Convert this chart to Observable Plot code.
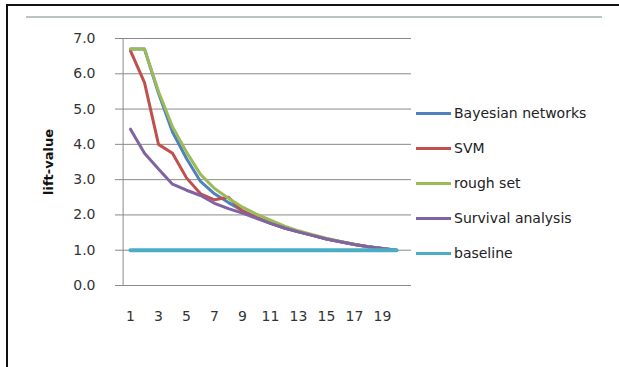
<!DOCTYPE html>
<html>
<head>
<meta charset="utf-8">
<script src="https://cdn.jsdelivr.net/npm/d3@7"></script>
<script src="https://cdn.jsdelivr.net/npm/@observablehq/plot@0.6"></script>
<style>
  html, body { margin: 0; padding: 0; background: #fff; }
  #wrap { position: relative; width: 619px; height: 367px; overflow: hidden; }
  #frame-top { position: absolute; left: 6px; top: 4px; width: 613px; height: 2px; background: #111; }
  #frame-left { position: absolute; left: 6px; top: 4px; width: 2px; height: 363px; background: #111; }
  #rule { position: absolute; left: 26px; top: 16px; width: 576px; height: 2px; background: #b9c5c4; }
  #legend { position: absolute; left: 416px; top: 0; font-family: "DejaVu Sans", sans-serif; font-size: 14px; color: #222; }
  .item { position: absolute; left: 0; height: 20px; display: flex; align-items: center; white-space: nowrap; }
  .swatch { width: 35px; height: 3px; margin-right: 3px; }
</style>
</head>
<body>
<div id="wrap">
  <div id="chart"></div>
  <div id="rule"></div>
  <div id="frame-top"></div>
  <div id="frame-left"></div>
  <div id="legend"></div>
</div>
<script>
// Top-N groups (1..20) on the horizontal axis
const groups = d3.range(1, 21);

// Lift value per group for each model
const bayesianNetworks = [6.7, 6.7, 5.45, 4.35, 3.6, 2.95, 2.6, 2.35, 2.12, 1.93, 1.77, 1.63, 1.52, 1.42, 1.32, 1.24, 1.16, 1.1, 1.05, 1.0];
const svm              = [6.65, 5.75, 4.0, 3.75, 3.05, 2.6, 2.43, 2.5, 2.1, 1.92, 1.76, 1.63, 1.52, 1.42, 1.32, 1.24, 1.16, 1.1, 1.05, 1.0];
const roughSet         = [6.7, 6.7, 5.5, 4.5, 3.78, 3.15, 2.75, 2.47, 2.22, 2.02, 1.85, 1.68, 1.55, 1.44, 1.34, 1.25, 1.17, 1.1, 1.05, 1.0];
const survivalAnalysis = [4.43, 3.75, 3.3, 2.87, 2.7, 2.55, 2.33, 2.18, 2.05, 1.9, 1.76, 1.63, 1.52, 1.42, 1.32, 1.24, 1.16, 1.1, 1.05, 1.0];
const baseline         = [1, 1, 1, 1, 1, 1, 1, 1, 1, 1, 1, 1, 1, 1, 1, 1, 1, 1, 1, 1];

// Axis labels
const xTickLabels = [1, 3, 5, 7, 9, 11, 13, 15, 17, 19];
const yTickValues = [0, 1, 2, 3, 4, 5, 6, 7];

const seriesNames  = ["Bayesian networks", "SVM", "rough set", "Survival analysis", "baseline"];
const seriesValues = [bayesianNetworks, svm, roughSet, survivalAnalysis, baseline];
const seriesColors = ["#4f81bd", "#c0504d", "#9bbb59", "#8064a2", "#4bacc6"];

const rows = seriesNames.flatMap((name, s) =>
  groups.map((g, i) => ({series: name, group: g, lift: seriesValues[s][i]}))
);

const chart = Plot.plot({
  width: 619,
  height: 367,
  marginLeft: 115,
  marginRight: 208,
  marginTop: 38,
  marginBottom: 82,
  style: {fontFamily: "'DejaVu Sans', sans-serif", fontSize: "14px", color: "#333", background: "transparent"},
  x: {type: "point", domain: groups, padding: 0.5},
  y: {domain: [0, 7]},
  color: {domain: seriesNames, range: seriesColors},
  marks: [
    Plot.ruleY(yTickValues.filter(v => v > 0), {stroke: "#8a8a8a", strokeWidth: 1}),
    Plot.ruleY([0], {stroke: "#8a8a8a", strokeWidth: 1}),
    Plot.ruleX([groups[0]], {stroke: "#8a8a8a", strokeWidth: 1, y1: 0, y2: 7, dx: -7.4}),
    Plot.axisX({ticks: xTickLabels, tickSize: 0, tickPadding: 26, label: null, fill: "#333"}),
    Plot.axisY({ticks: yTickValues, tickFormat: d3.format(".1f"), tickSize: 0, tickPadding: 20, label: null, fill: "#333"}),
    Plot.lineY(rows.filter(d => d.series !== "baseline"), {
      x: "group", y: "lift", z: "series", stroke: "series",
      strokeWidth: 3, strokeLinejoin: "round", strokeLinecap: "round"
    }),
    Plot.lineY(rows.filter(d => d.series === "baseline"), {
      x: "group", y: "lift", stroke: "series",
      strokeWidth: 4, strokeLinecap: "round"
    }),
    Plot.text(["lift-value"], {
      frameAnchor: "left", dx: -67, rotate: -90, textAnchor: "middle",
      fontWeight: "bold", fontSize: 13, fill: "#111"
    })
  ]
});
document.getElementById("chart").appendChild(chart);

// Legend to the right of the plot
const legend = document.getElementById("legend");
const rowTops = [103, 138, 173, 208, 243];
seriesNames.forEach((name, i) => {
  const item = document.createElement("div");
  item.className = "item";
  item.style.top = rowTops[i] + "px";
  const sw = document.createElement("span");
  sw.className = "swatch";
  sw.style.background = seriesColors[i];
  const label = document.createElement("span");
  label.textContent = name;
  item.appendChild(sw);
  item.appendChild(label);
  legend.appendChild(item);
});
</script>
</body>
</html>
